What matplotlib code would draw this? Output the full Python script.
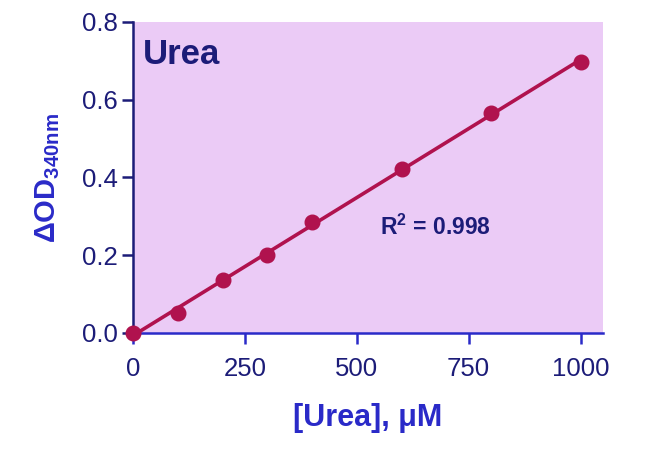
import numpy as np
import matplotlib
matplotlib.use('Agg')
import matplotlib.pyplot as plt

# data
urea_um = [0, 100, 200, 300, 400, 600, 800, 1000]
delta_od = [0.0, 0.052, 0.137, 0.201, 0.285, 0.422, 0.566, 0.697]
x_ticks = [0, 250, 500, 750, 1000]
y_ticks = [0.0, 0.2, 0.4, 0.6, 0.8]

plt.rcParams['font.family'] = ['Liberation Sans', 'DejaVu Sans']
plt.rcParams['mathtext.fontset'] = 'custom'
plt.rcParams['mathtext.rm'] = 'Liberation Sans'
plt.rcParams['mathtext.bf'] = 'Liberation Sans:bold'

navy = '#1c1c78'
blue = '#2a2ac8'
red = '#b0124e'

fig = plt.figure(figsize=(6.5, 4.68), dpi=100)
ax = fig.add_axes([0.2046, 0.2885, 0.723, 0.6645])
ax.set_facecolor('#ebcbf6')

# linear fit line
k, b = np.polyfit(urea_um, delta_od, 1)
xs = np.array([urea_um[0], urea_um[-1]])
ax.plot(xs, k * xs + b, color=red, lw=2.6, zorder=3)
ax.plot(urea_um, delta_od, 'o', color=red, ms=10.5, zorder=4, clip_on=False)

ax.set_xlim(0, 1050)
ax.set_ylim(0, 0.8)
ax.set_xticks(x_ticks)
ax.set_yticks(y_ticks)
ax.set_yticklabels(['%.1f' % v for v in y_ticks])

for s in ['top', 'right']:
    ax.spines[s].set_visible(False)
ax.spines['left'].set_color(navy)
ax.spines['bottom'].set_color(blue)
ax.spines['left'].set_linewidth(1.8)
ax.spines['bottom'].set_linewidth(1.8)
ax.tick_params(axis='y', colors=navy, length=8, width=1.8, labelsize=18.5, pad=3)
ax.tick_params(axis='x', colors=navy, length=8, width=1.8, labelsize=18.5, pad=9)
ax.tick_params(axis='x', color=blue)

ax.set_xlabel('[Urea], \u03bcM', fontsize=22, fontweight='bold', color=blue, labelpad=16)
ax.set_ylabel(r'$\mathbf{\Delta OD_{340nm}}$', fontsize=21, color=blue, labelpad=14)

ax.text(0.02, 0.865, 'Urea', transform=ax.transAxes, fontsize=25, fontweight='bold', color=navy)
ax.text(553, 0.253, r'$\mathbf{R^2}$' + ' = 0.998', fontsize=16.5, fontweight='bold', color=navy)

fig.savefig('out.png', dpi=100)
